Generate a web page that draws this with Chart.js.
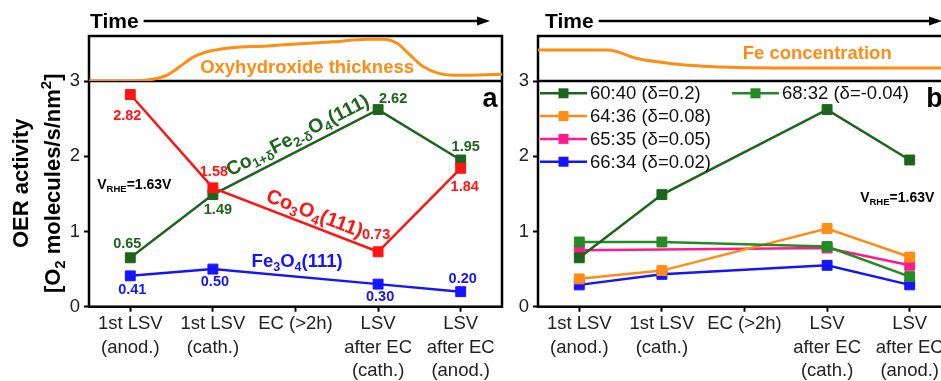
<!DOCTYPE html>
<html>
<head>
<meta charset="utf-8">
<script src="https://cdn.jsdelivr.net/npm/chart.js@4.4.1/dist/chart.umd.min.js"></script>
<style>
  html, body { margin: 0; padding: 0; background: #fff; overflow: hidden; }
  #wrap { position: relative; width: 941px; height: 381px; overflow: hidden; }
  #chartA { position: absolute; left: 0; top: 0; }
  #chartB { position: absolute; left: 480px; top: 0; }
</style>
</head>
<body>
<div id="wrap">
  <canvas id="chartA" width="517" height="381"></canvas>
  <canvas id="chartB" width="486" height="381"></canvas>
</div>
<script>
const FONT = '"Liberation Sans", Arial, Helvetica, sans-serif';

// measurement steps (x axis)
const steps = [
  ["1st LSV", "(anod.)"],
  ["1st LSV", "(cath.)"],
  "EC (>2h)",
  ["LSV", "after EC", "(cath.)"],
  ["LSV", "after EC", "(anod.)"],
];

// panel a: OER activity of the single-crystal films
const co3o4 = [2.82, 1.58, null, 0.73, 1.84];
const coFeO4 = [0.65, 1.49, null, 2.62, 1.95];
const fe3o4 = [0.41, 0.50, null, 0.30, 0.20];

// panel b: Co:Fe ratios
const ratioNames = ["60:40 (δ=0.2)", "68:32 (δ=-0.04)", "64:36 (δ=0.08)", "65:35 (δ=0.05)", "66:34 (δ=0.02)"];
const r6040 = [0.65, 1.49, null, 2.62, 1.95];
const r6832 = [0.86, 0.86, null, 0.80, 0.40];
const r6436 = [0.37, 0.48, null, 1.04, 0.66];
const r6535 = [0.75, null, null, 0.78, 0.55];
const r6634 = [0.29, 0.43, null, 0.55, 0.29];

// top strips: time in % of the window, arbitrary units 0..1
const thickTime = [0, 10.7, 15.5, 18.9, 22.0, 25.2, 28.6, 33.4, 43.1, 59.1, 67.3, 71.2, 74.6, 77.7, 80.9, 84.3, 88.1, 92.3, 100];
const thickVal = [0, 0, 0.04, 0.13, 0.32, 0.53, 0.65, 0.73, 0.78, 0.87, 0.93, 0.93, 0.84, 0.58, 0.32, 0.18, 0.13, 0.13, 0.15];
const feTime = [0, 17.0, 24.0, 32.0, 40.0, 48.3, 64.3, 100];
const feVal = [0.69, 0.69, 0.50, 0.39, 0.33, 0.30, 0.29, 0.29];

const RED = "#ff1414";
const GREEN = "#1d641d";
const GREEN2 = "#238b23";
const BLUE = "#1414ff";
const ORANGE = "#ff8c14";
const PINK = "#ff1a8c";

Chart.defaults.font.family = FONT;

// text with _{sub} and ^{sup} parts
function parseRich(s) {
  const parts = [];
  const re = /_\{([^}]*)\}|\^\{([^}]*)\}|([^_^]+)/g;
  let m;
  while ((m = re.exec(s))) {
    if (m[1] !== undefined) parts.push([m[1], "sub"]);
    else if (m[2] !== undefined) parts.push([m[2], "sup"]);
    else parts.push([m[3], ""]);
  }
  return parts;
}

function richText(ctx, str, x, y, o) {
  const size = o.size || 18;
  const weight = o.weight || "bold";
  const parts = parseRich(str);
  const fontOf = (k) => `${weight} ${k ? size * 0.68 : size}px ${FONT}`;
  ctx.save();
  ctx.translate(x, y);
  ctx.rotate(((o.rot || 0) * Math.PI) / 180);
  ctx.fillStyle = o.color || "#000";
  ctx.textBaseline = "middle";
  ctx.textAlign = "left";
  let w = 0;
  for (const [t, k] of parts) {
    ctx.font = fontOf(k);
    w += ctx.measureText(t).width;
  }
  let cx = o.align === "left" ? 0 : o.align === "right" ? -w : -w / 2;
  for (const [t, k] of parts) {
    ctx.font = fontOf(k);
    const dy = k === "sub" ? size * 0.3 : k === "sup" ? -size * 0.33 : 0;
    ctx.fillText(t, cx, dy);
    cx += ctx.measureText(t).width;
  }
  ctx.restore();
}

const decor = {
  id: "decor",
  beforeDatasetsDraw(chart, args, o) {
    const { ctx, chartArea: a, scales } = chart;
    ctx.save();
    ctx.strokeStyle = "#000";
    ctx.fillStyle = "#000";
    ctx.lineWidth = 2.5;
    ctx.strokeRect(a.left, a.top, a.width, a.height);
    ctx.beginPath();
    ctx.moveTo(a.left, scales.y.top);
    ctx.lineTo(a.right, scales.y.top);
    ctx.stroke();
    // "Time" arrow
    ctx.font = `bold 21px ${FONT}`;
    ctx.textBaseline = "alphabetic";
    const tx = a.left + o.timeDx;
    ctx.fillText("Time", tx, 28);
    const x0 = tx + ctx.measureText("Time").width + 5;
    const x1 = a.right - o.tipDx;
    const ya = 21;
    ctx.beginPath();
    ctx.moveTo(x0, ya);
    ctx.lineTo(x1 - 10, ya);
    ctx.stroke();
    ctx.beginPath();
    ctx.moveTo(x1, ya);
    ctx.lineTo(x1 - 13, ya - 4.5);
    ctx.lineTo(x1 - 13, ya + 4.5);
    ctx.closePath();
    ctx.fill();
    ctx.restore();
  },
  afterDatasetsDraw(chart, args, o) {
    const { ctx, chartArea: a, scales } = chart;
    // value labels next to the points
    (o.valueLabels || []).forEach((offs, di) => {
      if (!offs) return;
      const ds = chart.data.datasets[di];
      const meta = chart.getDatasetMeta(di);
      offs.forEach((off, i) => {
        if (!off || ds.data[i] == null) return;
        const p = meta.data[i];
        richText(ctx, ds.data[i].toFixed(2), p.x + off[0], p.y + off[1], { size: 14.5, color: ds.borderColor });
      });
    });
    // annotations
    (o.notes || []).forEach((n) => {
      const xs = scales[n.xAxis || "x"];
      const ys = scales[n.yAxis || "y"];
      richText(ctx, n.text, xs.getPixelForValue(n.x), ys.getPixelForValue(n.y), n);
    });
    // axis title
    if (o.yTitle) {
      const yc = scales.y.getPixelForValue(o.yTitle.y);
      o.yTitle.lines.forEach((line, i) => {
        richText(ctx, line, a.left + o.yTitle.dx[i], yc, { size: 22, rot: -90 });
      });
    }
    // legend, two columns
    if (o.legend) {
      const L = o.legend;
      L.slots.forEach((slot, di) => {
        const ds = chart.data.datasets[di];
        const x = a.left + L.x + slot[0] * L.colGap;
        const y = scales.y.top + L.y + slot[1] * L.rowGap;
        ctx.save();
        ctx.strokeStyle = ds.borderColor;
        ctx.fillStyle = ds.borderColor;
        ctx.lineWidth = 2.5;
        ctx.beginPath();
        ctx.moveTo(x, y);
        ctx.lineTo(x + 47, y);
        ctx.stroke();
        ctx.fillRect(x + 18.5, y - 5, 10, 10);
        ctx.font = `18.5px ${FONT}`;
        ctx.textBaseline = "middle";
        ctx.fillStyle = "#111";
        ctx.fillText(ds.label, x + 50, y + 1);
        ctx.restore();
      });
    }
  },
};

function series(label, data, color) {
  return {
    label: label,
    data: data,
    borderColor: color,
    backgroundColor: color,
    borderWidth: 2.5,
    pointStyle: "rect",
    pointRadius: 7,
    pointBorderWidth: 1,
    spanGaps: true,
    xAxisID: "x",
    yAxisID: "y",
  };
}

function strip(times, values) {
  return {
    label: "strip",
    data: times.map((t, i) => ({ x: t, y: values[i] })),
    borderColor: ORANGE,
    borderWidth: 3,
    pointRadius: 0,
    cubicInterpolationMode: "monotone",
    xAxisID: "xt",
    yAxisID: "yt",
  };
}

function scalesFor(yWidth) {
  return {
    x: {
      type: "category",
      offset: true,
      position: "bottom",
      border: { display: false },
      grid: { drawOnChartArea: false, drawTicks: true, tickLength: 5, tickWidth: 2, tickColor: "#000" },
      ticks: { font: { size: 18.5, lineHeight: 1.26 }, color: "#222", autoSkip: false, maxRotation: 0, padding: 1 },
      afterFit: (s) => { s.height = 74.3; },
    },
    xt: { type: "linear", min: 0, max: 100, display: false },
    y: {
      type: "linear",
      position: "left",
      min: 0,
      max: 3,
      stack: "v",
      stackWeight: 225.7,
      weight: 0,
      border: { display: false },
      grid: { drawOnChartArea: false, drawTicks: true, tickLength: 5, tickWidth: (c) => (Number.isInteger(c.tick.value) ? 2 : 1.5), tickColor: "#000" },
      ticks: {
        stepSize: 0.5,
        font: { size: 18.5 },
        color: "#222",
        padding: 4,
        callback: (v) => (Number.isInteger(v) ? String(v) : ""),
      },
      afterFit: (s) => { s.width = yWidth; },
    },
    yt: { type: "linear", position: "left", min: 0, max: 1, stack: "v", stackWeight: 45, weight: 1, display: false },
  };
}

const common = {
  responsive: false,
  animation: false,
  events: [],
  layout: { padding: { left: 0, top: 36, right: 15, bottom: 0 } },
};

new Chart(document.getElementById("chartA").getContext("2d"), {
  type: "line",
  data: {
    labels: steps,
    datasets: [
      series("Co3O4(111)", co3o4, RED),
      series("Co1+δFe2-δO4(111)", coFeO4, GREEN),
      series("Fe3O4(111)", fe3o4, BLUE),
      strip(thickTime, thickVal),
    ],
  },
  options: {
    ...common,
    scales: scalesFor(89),
    plugins: {
      legend: { display: false },
      tooltip: { enabled: false },
      decor: {
        timeDx: 1,
        tipDx: 12,
        valueLabels: [
          [[-3, 21], [1, -16], null, [-2, -17], [4, 19]],
          [[-3, -14], [5, 15], null, [15, -11], [5, -13]],
          [[2, 14], [2, 13], null, [2, 13], [2, -13]],
        ],
        notes: [
          { text: "Co_{1+δ}Fe_{2-δ}O_{4}(111)", x: 2.03, y: 2.27, rot: -27, size: 19.5, color: GREEN },
          { text: "Co_{3}O_{4}(111)", x: 2.23, y: 1.23, rot: 21, size: 20, color: RED },
          { text: "Fe_{3}O_{4}(111)", x: 2.02, y: 0.59, size: 18.5, color: BLUE },
          { text: "V_{RHE}=1.63V", x: -0.40, y: 1.62, size: 14, align: "left" },
          { text: "a", x: 4.355, y: 2.76, size: 27 },
          { text: "Oxyhydroxide thickness", xAxis: "xt", yAxis: "yt", x: 52.8, y: 0.29, size: 18.5, color: ORANGE },
        ],
        yTitle: { lines: ["OER activity", "[O_{2} molecules/s/nm^{2}]"], dx: [-67, -35], y: 1.64 },
      },
    },
  },
  plugins: [decor],
});

new Chart(document.getElementById("chartB").getContext("2d"), {
  type: "line",
  data: {
    labels: steps,
    datasets: [
      series(ratioNames[0], r6040, GREEN),
      series(ratioNames[1], r6832, GREEN2),
      series(ratioNames[2], r6436, ORANGE),
      series(ratioNames[3], r6535, PINK),
      series(ratioNames[4], r6634, BLUE),
      strip(feTime, feVal),
    ],
  },
  options: {
    ...common,
    scales: scalesFor(58),
    plugins: {
      legend: { display: false },
      tooltip: { enabled: false },
      decor: {
        timeDx: 7,
        tipDx: 9,
        legend: { x: 2, y: 12.3, colGap: 192, rowGap: 22.8, slots: [[0, 0], [1, 0], [0, 1], [0, 2], [0, 3]] },
        notes: [
          { text: "V_{RHE}=1.63V", x: 3.40, y: 1.44, size: 14, align: "left" },
          { text: "b", x: 4.30, y: 2.76, size: 27 },
          { text: "Fe concentration", xAxis: "xt", yAxis: "yt", x: 67.6, y: 0.6, size: 18.5, color: ORANGE },
        ],
      },
    },
  },
  plugins: [decor],
});
</script>
</body>
</html>
